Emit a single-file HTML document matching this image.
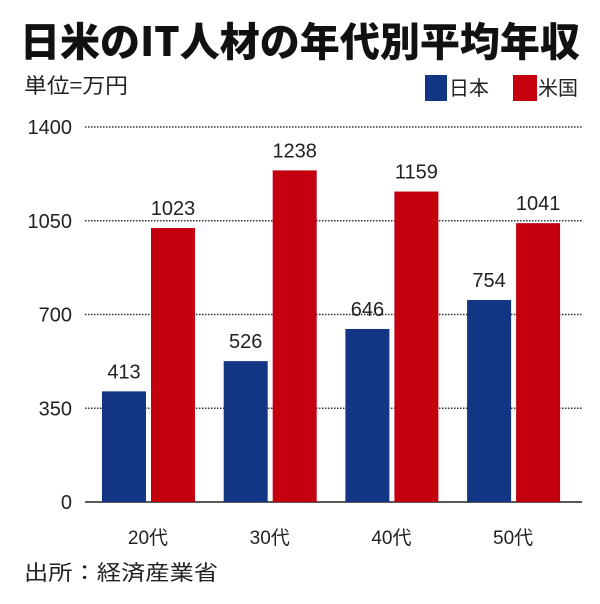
<!DOCTYPE html>
<html><head><meta charset="utf-8"><style>
body{margin:0;width:600px;height:599px;background:#fff;overflow:hidden;font-family:"Liberation Sans","Noto Sans CJK JP",sans-serif;}
</style></head><body>
<svg width="600" height="599" xmlns="http://www.w3.org/2000/svg">
<text x="300" y="56" text-anchor="middle" font-size="40" font-weight="900" fill="#111" font-family="'Noto Sans CJK JP',sans-serif" textLength="560" lengthAdjust="spacingAndGlyphs">日米のIT人材の年代別平均年収</text>
<text x="24" y="93" font-size="21" fill="#222" font-family="'Noto Sans CJK JP',sans-serif" textLength="104" lengthAdjust="spacingAndGlyphs">単位=万円</text>
<rect x="425" y="75" width="22" height="26" fill="#123584"/>
<text x="449" y="95" font-size="20" fill="#222" font-family="'Noto Sans CJK JP',sans-serif">日本</text>
<rect x="513" y="75" width="24" height="26" fill="#c4000f"/>
<text x="538" y="95" font-size="20" fill="#222" font-family="'Noto Sans CJK JP',sans-serif">米国</text>
<g id="plot"></g>
<text x="24" y="580" font-size="21" fill="#222" font-family="'Noto Sans CJK JP',sans-serif" textLength="194" lengthAdjust="spacingAndGlyphs">出所：経済産業省</text>
</svg>
<script>
const categories=["20代","30代","40代","50代"];
const japan=[413,526,646,754];
const us=[1023,1238,1159,1041];
const ticks=[0,350,700,1050,1400];
const NS="http://www.w3.org/2000/svg";
const g=document.getElementById('plot');
const y0=502,y1=127,yMax=1400;
function y(v){return y0-(v/yMax)*(y0-y1);}
function xc(i){return 148+i*121.7;}
function mk(t,a,txt){const e=document.createElementNS(NS,t);for(const k in a)e.setAttribute(k,a[k]);if(txt!==undefined)e.textContent=txt;g.appendChild(e);return e;}
ticks.forEach(t=>{
  if(t>0){const l=mk('line',{x1:85,x2:582,y1:y(t),y2:y(t),stroke:'#333','stroke-width':1.5,'stroke-dasharray':'1.5,1.5'});
  
  }
  const tx=mk('text',{x:72,y:y(t)+7,'text-anchor':'end','font-size':20,fill:'#222'},String(t));
  
  
});
const ax=mk('line',{x1:85,x2:582,y1:y0,y2:y0,stroke:'#222','stroke-width':1.5});


categories.forEach((c,i)=>{
  const cx=xc(i);
  [[japan[i],'#123584',cx-46,'bar-japan'],[us[i],'#c4000f',cx+3,'bar-us']].forEach(([v,col,x,n])=>{
    const r=mk('rect',{x:x,y:y(v),width:44,height:y0-y(v),fill:col});
    
    
    const t=mk('text',{x:x+22,y:y(v)-13,'text-anchor':'middle','font-size':20,fill:'#222'},String(v));
    
    
  });
  const l=mk('text',{x:cx,y:544,'text-anchor':'middle','font-size':19,fill:'#222'},c);
  
  
});
</script>
</body></html>
